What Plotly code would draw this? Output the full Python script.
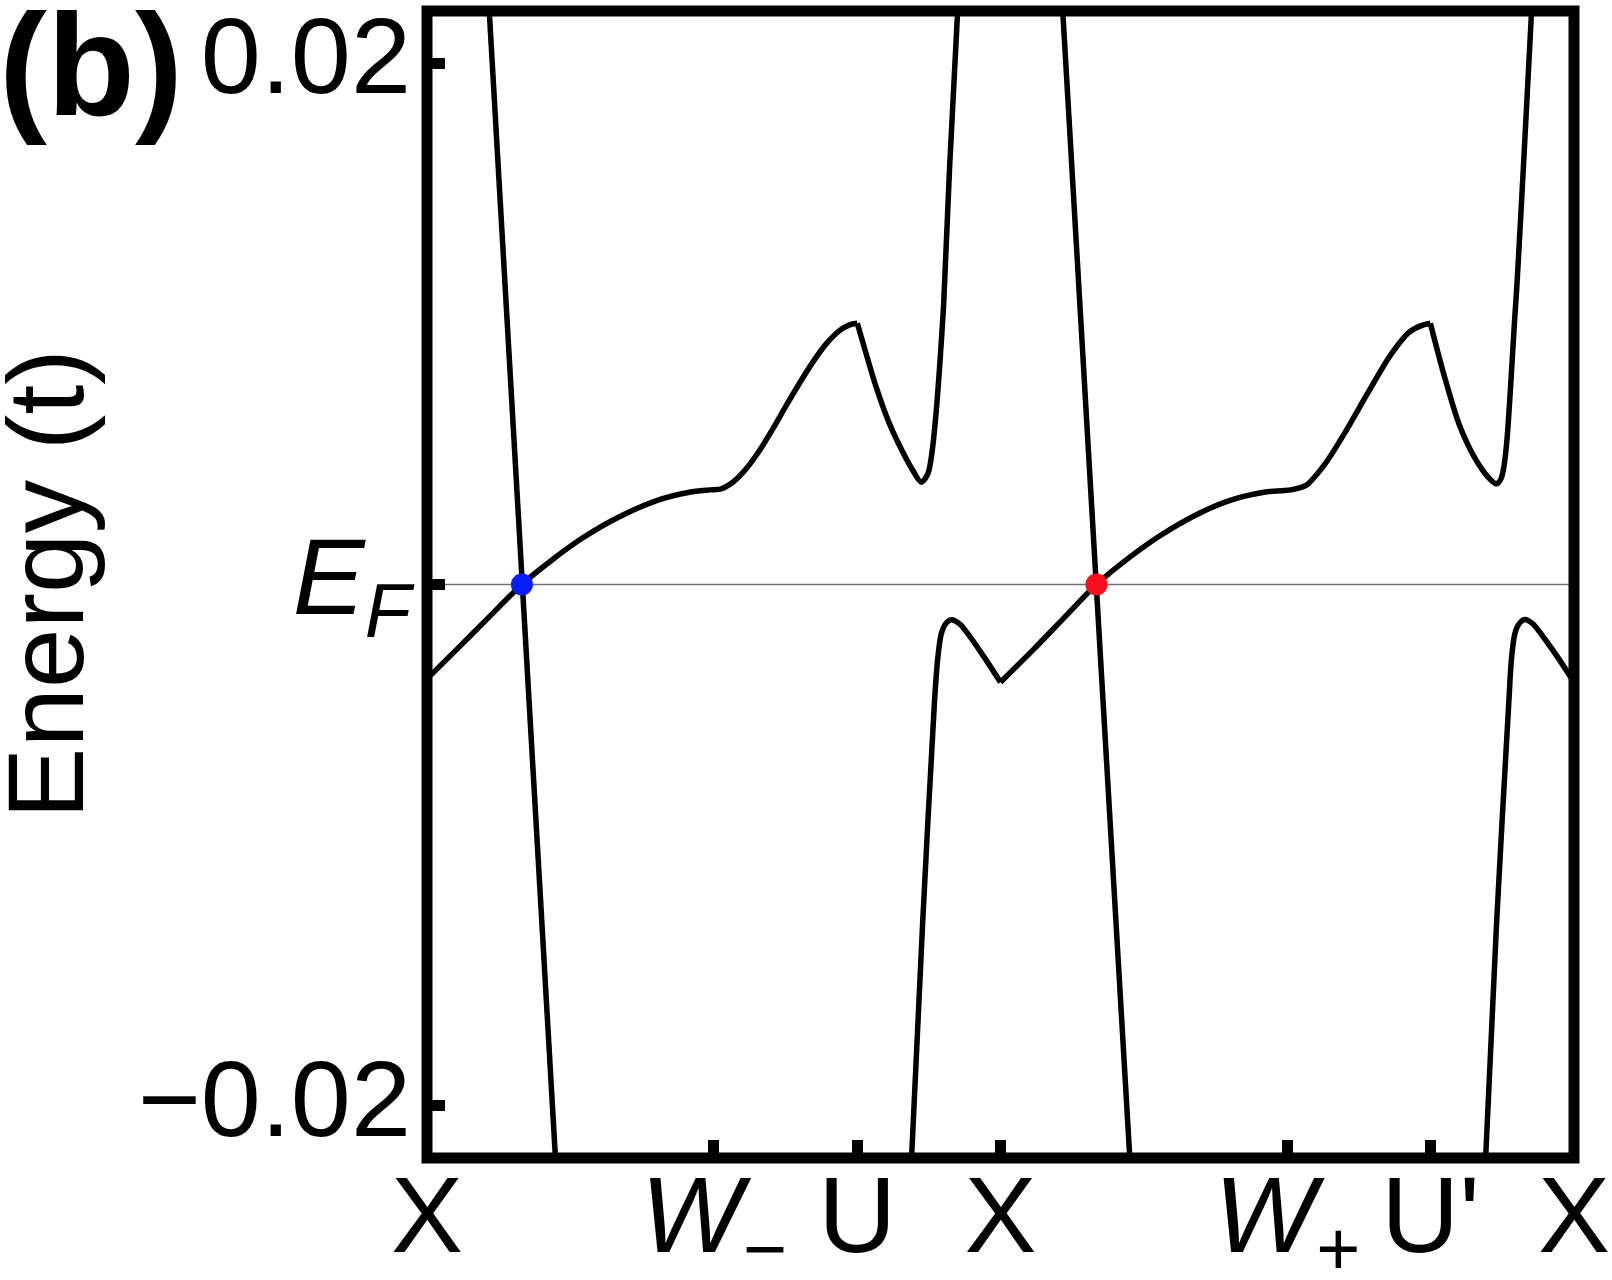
import plotly.graph_objects as go

# ---- k-path tick positions and labels ----
k_ticks = [0, 2, 3, 4, 6, 7, 8]
k_labels = ["X", "<i>W</i><sub>−</sub>", "U", "X", "<i>W</i><sub>+</sub>", "U'", "X"]

# ---- energy ticks ----
e_ticks = [0.02, 0.0, -0.02]
e_labels = ["0.02", "<i>E</i><sub><i>F</i></sub>", "−0.02"]
fermi_level = 0.0

# ---- band 1, segment X -> W_ -> U ----
band1a_k = [0.0, 0.213, 0.427, 0.662, 0.881, 1.095, 1.335, 1.602, 1.83, 1.97, 2.052, 2.133,
            2.226, 2.319, 2.412, 2.505, 2.598, 2.691, 2.784, 2.877, 2.947, 3.001]
band1a_e = [-0.00362, -0.00246, -0.00128, 0.0, 0.00098, 0.00182, 0.00258, 0.00322, 0.00354,
            0.00363, 0.00367, 0.00392, 0.00444, 0.00514, 0.00597, 0.00686, 0.00772, 0.00853,
            0.00923, 0.00974, 0.00996, 0.01002]
# ---- band 1, segment U -> dip -> up out of the frame ----
band1b_k = [3.001, 3.063, 3.133, 3.226, 3.319, 3.389, 3.447, 3.493, 3.524, 3.552, 3.575, 3.590,
            3.604, 3.645, 3.703]
band1b_e = [0.01002, 0.00885, 0.00757, 0.00616, 0.00507, 0.00437, 0.00392, 0.00424, 0.00514,
            0.00667, 0.00833, 0.00955, 0.0108, 0.016, 0.0222]

# ---- band 2, segment from bottom near U -> bump -> X ----
band2a_k = [3.378, 3.456, 3.540, 3.563, 3.587, 3.617, 3.657, 3.715, 3.807, 3.901, 4.0]
band2a_e = [-0.0222, -0.0131, -0.00445, -0.00279, -0.00189, -0.00151, -0.00135, -0.00151,
            -0.00215, -0.00291, -0.00375]
# ---- band 2, segment X -> W+ -> U' ----
band2b_k = [4.0, 4.234, 4.448, 4.669, 4.902, 5.115, 5.356, 5.596, 5.837, 5.96, 6.024, 6.13,
            6.264, 6.397, 6.558, 6.718, 6.851, 6.93, 6.998]
band2b_e = [-0.00375, -0.00247, -0.00125, 0.0, 0.00105, 0.00188, 0.00265, 0.00322, 0.00354,
            0.0036, 0.00363, 0.0038, 0.00463, 0.00578, 0.00731, 0.00878, 0.00968, 0.00992,
            0.01002]
# ---- band 2, segment U' -> dip -> up out of the frame ----
band2c_k = [6.998, 7.091, 7.198, 7.306, 7.412, 7.458, 7.49, 7.512, 7.532, 7.559, 7.584, 7.602,
            7.647, 7.706]
band2c_e = [0.01002, 0.00808, 0.00616, 0.00488, 0.00405, 0.00386, 0.00405, 0.00455, 0.00552,
            0.0077, 0.0100, 0.0115, 0.016, 0.0222]

# ---- band 3, from bottom near U' -> bump -> X ----
band3_k = [7.382, 7.459, 7.546, 7.563, 7.587, 7.615, 7.657, 7.712, 7.80, 7.90, 8.0]
band3_e = [-0.0222, -0.0131, -0.00445, -0.0029, -0.0019, -0.00152, -0.00134, -0.0015,
           -0.00212, -0.0029, -0.00375]

# ---- steep bands crossing E_F ----
steep1_k = [0.432, 0.497, 0.56, 0.662, 0.714, 0.809, 0.898]
steep1_e = [0.0222, 0.016, 0.00974, 0.0, -0.00445, -0.01314, -0.0222]
steep2_k = [4.432, 4.568, 4.669, 4.715, 4.904]
steep2_e = [0.0222, 0.00974, 0.0, -0.00445, -0.0222]

# ---- crossing points ----
cross_k = [0.662, 4.669]
cross_e = [0.0, 0.0]
cross_colors = ["#0A1EFB", "#F70F1E"]

FONT = "Liberation Sans, Arial, Helvetica, sans-serif"

fig = go.Figure()

# Fermi level line
fig.add_trace(go.Scatter(x=[k_ticks[0], k_ticks[-1]], y=[fermi_level, fermi_level], mode="lines",
                         line=dict(color="#707070", width=1.5), hoverinfo="skip", showlegend=False))

smooth_segments = [(band1a_k, band1a_e), (band1b_k, band1b_e), (band2a_k, band2a_e),
                   (band2b_k, band2b_e), (band2c_k, band2c_e), (band3_k, band3_e)]
for kx, ey in smooth_segments:
    fig.add_trace(go.Scatter(x=kx, y=ey, mode="lines",
                             line=dict(color="black", width=5.5, shape="spline", smoothing=0.8),
                             showlegend=False))

for kx, ey in [(steep1_k, steep1_e), (steep2_k, steep2_e)]:
    fig.add_trace(go.Scatter(x=kx, y=ey, mode="lines",
                             line=dict(color="black", width=5.5), showlegend=False))

fig.add_trace(go.Scatter(x=cross_k, y=cross_e, mode="markers",
                         marker=dict(color=cross_colors, size=22, line=dict(width=0)),
                         showlegend=False))

axis_common = dict(
    ticks="inside", ticklen=18, tickwidth=11, tickcolor="black",
    showgrid=False, zeroline=False, showline=False, automargin=False,
    ticklabeloverflow="allow",
    tickfont=dict(family=FONT, size=108, color="black"),
)

fig.update_layout(
    width=1612, height=1280, autosize=False,
    margin=dict(l=427, r=38, t=10.5, b=122, pad=0),
    paper_bgcolor="white", plot_bgcolor="white",
    xaxis=dict(range=[0, 8], tickmode="array", tickvals=k_ticks, ticktext=k_labels,
               ticklabelstandoff=-15, **axis_common),
    yaxis=dict(range=[-0.022, 0.022], tickmode="array", tickvals=e_ticks, ticktext=e_labels,
               ticklabelstandoff=15, ticklabelshift=-8, **axis_common),
    shapes=[dict(type="rect", xref="paper", yref="paper", x0=0, x1=1, y0=0, y1=1,
                 line=dict(color="black", width=11), layer="above")],
    annotations=[
        dict(text="<b>(b)</b>", xref="paper", yref="paper", x=-0.3753, y=0.9525,
             xanchor="left", yanchor="middle", showarrow=False,
             font=dict(family=FONT, size=144, color="black")),
        dict(text="Energy (t)", xref="paper", yref="paper", x=-0.3322, y=0.5005,
             xanchor="center", yanchor="middle", textangle=-90, showarrow=False,
             font=dict(family=FONT, size=107, color="black")),
    ],
)

fig.write_html("out.html", config={"displayModeBar": False},
               post_script="document.body.style.margin='0';")
